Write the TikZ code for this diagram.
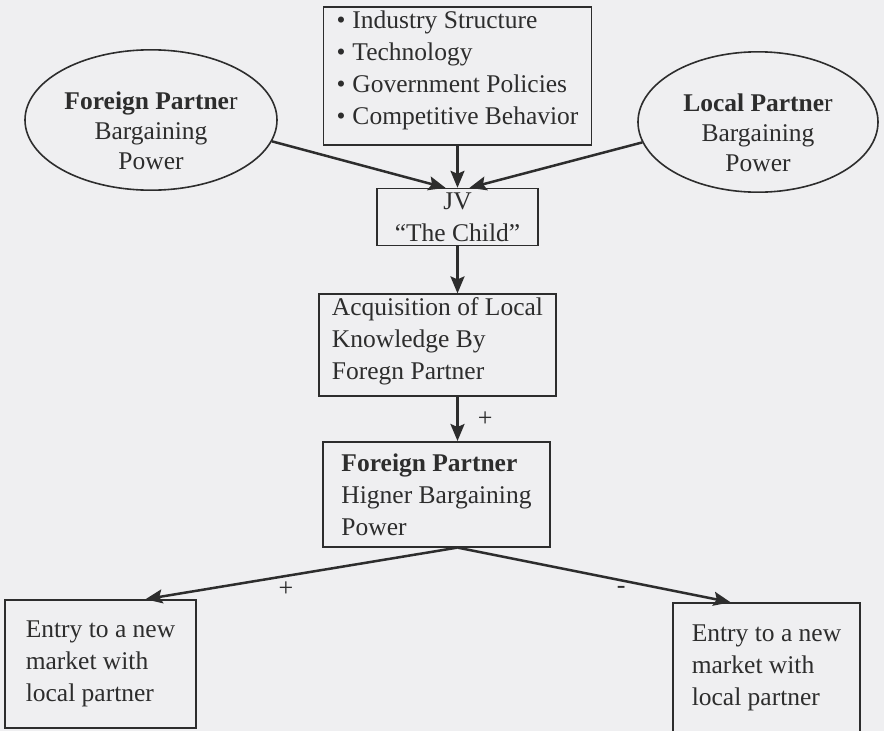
\documentclass[tikz,border=0pt]{standalone}
\usepackage{fontspec}
\setmainfont{Liberation Serif}
\usetikzlibrary{shapes,arrows.meta,positioning}
\definecolor{paper}{RGB}{239,239,241}
\definecolor{ink}{RGB}{45,45,45}
\tikzstyle{block} = [rectangle, draw=ink, line width=1.6pt, text=ink,
    align=left, inner xsep=13pt, inner ysep=0pt]
\tikzstyle{party} = [ellipse, draw=ink, line width=1.6pt, text=ink,
    align=center, inner sep=0pt, minimum width=252pt, minimum height=134pt,
    text height=99pt, font=\fontsize{25.5}{30}\selectfont]
\tikzstyle{line} = [draw=ink, line width=2.5pt,
    -{Stealth[length=17pt,width=14pt,inset=3pt]}]
\tikzstyle{sign} = [text=ink, inner sep=0pt, font=\fontsize{26}{28}\selectfont]

\begin{document}
\begin{tikzpicture}[x=1pt, y=-1pt, font=\fontsize{25.5}{32}\selectfont]
        % Paper
        \fill [paper] (0,0) rectangle (884,731);
        \useasboundingbox (0,0) rectangle (884,731);

        % Place nodes
        % 1. Environment factors
        \node [block, minimum width=261pt, minimum height=138pt, text depth=17.5pt]
            (fact) at (457.5,76)
            {\textbullet\hspace{7pt}Industry Structure\\
             \textbullet\hspace{7pt}Technology\\
             \textbullet\hspace{7pt}Government Policies\\
             \textbullet\hspace{7pt}Competitive Behavior};

        % 2. The two partners
        \node [party] (fpart) at (151,120) {\textbf{Foreign Partne}r\\Bargaining\\Power};
        \node [party, minimum width=240pt, minimum height=132pt] (lpart) at (758,122)
            {\textbf{Local Partne}r\\Bargaining\\Power};

        % 3. Joint venture
        \node [block, align=center, minimum width=161pt, minimum height=57pt,
            below=42pt of fact] (jv) {JV\\“The Child”};

        % 4. Learning
        \node [block, minimum width=225pt, minimum height=102pt, text depth=13.5pt,
            below=47pt of jv, xshift=-20pt] (acq)
            {Acquisition of Local\\Knowledge By\\Foregn Partner};
        \node [block, minimum width=227pt, minimum height=105pt,
            below=44pt of acq, xshift=-1pt] (fhigh)
            {\textbf{Foreign Partner}\\Higner Bargaining\\Power};

        % 5. Outcomes
        \node [block, minimum width=191pt, minimum height=128pt] (entl) at (100.5,664)
            {Entry to a new\\market with\\local partner};
        \node [block, minimum width=187pt, minimum height=130pt] (entr) at (766.5,668)
            {Entry to a new\\market with\\local partner};

        % Draw edges
        \path [line] (fact) -- (jv);
        \path [line] (fpart.-10) -- ([xshift=-12pt]jv.north);
        \path [line] (lpart.190) -- ([xshift=12pt]jv.north);
        \path [line] (jv) -- (jv |- acq.north);
        \path [line] (acq.south -| jv) -- (fhigh.north -| jv)
            node [midway, right=19pt, sign] {+};
        \path [line] (fhigh.south -| jv) -- ([xshift=45pt]entl.north)
            node [pos=0.55, below=5pt, sign] {+};
        \path [line] (fhigh.south -| jv) -- ([xshift=-36pt]entr.north)
            node [pos=0.6, below=5pt, sign] {-};
\end{tikzpicture}
\end{document}
